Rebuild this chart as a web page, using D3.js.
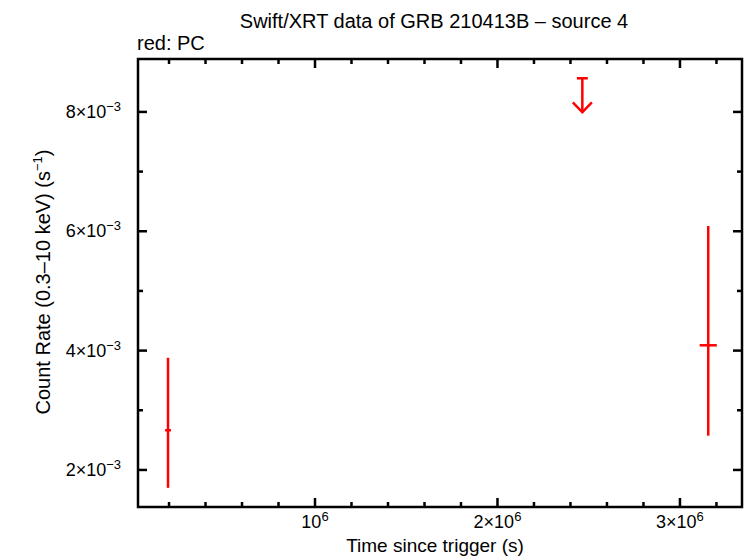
<!DOCTYPE html>
<html>
<head>
<meta charset="utf-8">
<script src="https://cdn.jsdelivr.net/npm/d3@7"></script>
<style>
  body { margin: 0; background: #fff; }
  text { font-family: "Liberation Sans", Arial, Helvetica, sans-serif; fill: #000; }
</style>
</head>
<body>
<div id="chart"></div>
<script>
'use strict';

// detections (PC mode)
const times = [0.1945e6, 3.155e6];
const timeErr = [0.016e6, 0.047e6];
const rates = [2.665e-3, 4.089e-3];
const rateHi = [3.88e-3, 6.088e-3];
const rateLo = [1.70e-3, 2.574e-3];

// upper limits
const ulTimes = [2.465e6];
const ulErr = [0.03e6];
const ulRates = [8.564e-3];

const xMajor = [1e6, 2e6, 3e6];
const xMajorLabels = [["10", "6"], ["2×10", "6"], ["3×10", "6"]];
const xMinor = [0.2e6, 0.4e6, 0.6e6, 0.8e6, 1.2e6, 1.4e6, 1.6e6, 1.8e6, 2.2e6, 2.4e6, 2.6e6, 2.8e6, 3.2e6];
const yMajor = [2e-3, 4e-3, 6e-3, 8e-3];
const yMajorLabels = [["2×10", "−3"], ["4×10", "−3"], ["6×10", "−3"], ["8×10", "−3"]];
const yMinor = [3e-3, 5e-3, 7e-3];

const width = 746, height = 558;
const margin = {top: 59, right: 4, bottom: 51, left: 138};
const plotW = width - margin.left - margin.right;
const plotH = height - margin.top - margin.bottom;

const x = d3.scaleLinear().domain([0.030e6, 3.34e6]).range([0, plotW]);
const y = d3.scaleLinear().domain([1.379e-3, 8.887e-3]).range([plotH, 0]);

const svg = d3.select("#chart").append("svg")
    .attr("width", width)
    .attr("height", height);

svg.append("text")
    .attr("x", 434).attr("y", 28)
    .attr("text-anchor", "middle")
    .style("font-size", "20px")
    .text("Swift/XRT data of GRB 210413B – source 4");

svg.append("text")
    .attr("x", 137).attr("y", 50)
    .style("font-size", "20px")
    .text("red: PC");

const g = svg.append("g")
    .attr("transform", "translate(" + margin.left + "," + margin.top + ")");

// ticks, drawn inward on all four sides
function ticks(vals, len, isX) {
    vals.forEach(function(v) {
        if (isX) {
            let px = x(v);
            g.append("line").attr("x1", px).attr("x2", px).attr("y1", plotH).attr("y2", plotH - len);
            g.append("line").attr("x1", px).attr("x2", px).attr("y1", 0).attr("y2", len);
        } else {
            let py = y(v);
            g.append("line").attr("y1", py).attr("y2", py).attr("x1", 0).attr("x2", len);
            g.append("line").attr("y1", py).attr("y2", py).attr("x1", plotW).attr("x2", plotW - len);
        }
    });
}
g.attr("stroke", "#000").attr("stroke-width", 2.5);
ticks(xMajor, 9, true);
ticks(xMinor, 5, true);
ticks(yMajor, 9, false);
ticks(yMinor, 5, false);

g.append("rect")
    .attr("width", plotW).attr("height", plotH)
    .attr("fill", "none").attr("stroke", "#000").attr("stroke-width", 2.5);

// tick labels with superscripts
xMajor.forEach(function(v, i) {
    let t = svg.append("text")
        .attr("x", margin.left + x(v)).attr("y", 528)
        .attr("text-anchor", "middle")
        .style("font-size", "18px");
    t.append("tspan").text(xMajorLabels[i][0]);
    t.append("tspan").attr("dy", -7).style("font-size", "13px").text(xMajorLabels[i][1]);
});
yMajor.forEach(function(v, i) {
    let t = svg.append("text")
        .attr("x", 121).attr("y", margin.top + y(v) + 6)
        .attr("text-anchor", "end")
        .style("font-size", "18px");
    t.append("tspan").text(yMajorLabels[i][0]);
    t.append("tspan").attr("dy", -7).style("font-size", "13px").text(yMajorLabels[i][1]);
});

svg.append("text")
    .attr("x", 435).attr("y", 552)
    .attr("text-anchor", "middle")
    .style("font-size", "19px")
    .text("Time since trigger (s)");

let yl = svg.append("text")
    .attr("transform", "translate(50,282)rotate(-90)")
    .attr("text-anchor", "middle")
    .style("font-size", "20px");
yl.append("tspan").text("Count Rate (0.3–10 keV) (s");
yl.append("tspan").attr("dy", -8).style("font-size", "13px").text("−1");
yl.append("tspan").attr("dy", 8).text(")");

// data
const red = "#ff0000";
const pts = g.append("g").attr("stroke", red).attr("stroke-width", 2.5).attr("fill", "none");
times.forEach(function(t, i) {
    pts.append("line")
        .attr("x1", x(t)).attr("x2", x(t))
        .attr("y1", y(rateLo[i])).attr("y2", y(rateHi[i]));
    pts.append("line")
        .attr("x1", x(t - timeErr[i])).attr("x2", x(t + timeErr[i]))
        .attr("y1", y(rates[i])).attr("y2", y(rates[i]));
});

ulTimes.forEach(function(t, i) {
    let px = x(t), py = y(ulRates[i]);
    pts.append("line")
        .attr("x1", x(t - ulErr[i])).attr("x2", x(t + ulErr[i]))
        .attr("y1", py).attr("y2", py);
    pts.append("line")
        .attr("x1", px).attr("x2", px)
        .attr("y1", py).attr("y2", py + 34);
    pts.append("path")
        .attr("d", "M" + (px - 9.5) + "," + (py + 24) + "L" + px + "," + (py + 34) + "L" + (px + 9.5) + "," + (py + 24));
});
</script>
</body>
</html>
